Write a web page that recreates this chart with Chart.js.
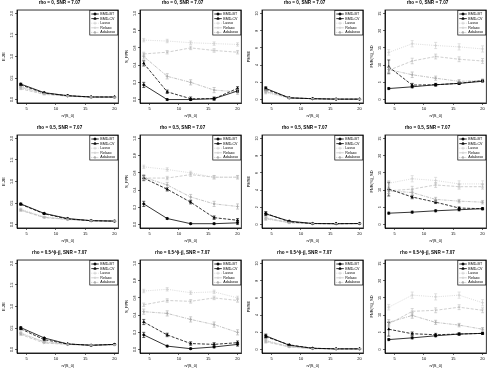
<!DOCTYPE html>
<html>
<head>
<meta charset="utf-8">
<script src="https://cdn.jsdelivr.net/npm/chart.js@4.4.0/dist/chart.umd.min.js"></script>
<style>
  body{margin:0;background:#fff;width:490px;height:369px;overflow:hidden;position:relative;}
  canvas{position:absolute;}
</style>
</head>
<body>
<script>
// x positions (n/|S_0|) and tick labels
const xVals = [4, 8, 12, 16, 20];
const xTicks = [5, 10, 15, 20];
const seriesNames = ['BMD-BT', 'BMD-CV', 'Lasso', 'Relaxo', 'Adalasso'];
const rowTitles = ['rho = 0, SNR = 7.07', 'rho = 0.5, SNR = 7.07', 'rho = 0.5^|i-j|, SNR = 7.07'];
const yTitles = ['E-2E', 'S_FPR', 'PMSE', 'FNR(%)_SD'];
const xTitle = 'n/|S_0|';
const yMax = [2, 1, 10, 25];
const yStep = [0.5, 0.2, 2, 5];

// panel values: rows BMD-BT, BMD-CV, Lasso, Relaxo, Adalasso
const r1c1 = [[0.36,0.16,0.09,0.06,0.06],[0.34,0.15,0.09,0.06,0.06],[0.27,0.13,0.08,0.06,0.05],[0.25,0.12,0.08,0.05,0.05],[0.29,0.14,0.08,0.06,0.05]];
const r1c2 = [[0.17,0.00,0.00,0.01,0.10],[0.42,0.09,0.01,0.01,0.13],[0.69,0.68,0.66,0.65,0.64],[0.53,0.55,0.60,0.57,0.55],[0.50,0.27,0.20,0.11,0.09]];
const r1c3 = [[1.3,0.2,0.1,0.05,0.05],[1.2,0.2,0.1,0.05,0.05],[0.8,0.15,0.1,0.05,0.05],[1.0,0.2,0.1,0.05,0.05],[0.9,0.2,0.1,0.05,0.05]];
const r1c4 = [[3.2,3.7,4.3,4.7,5.3],[9.5,4.2,4.3,4.7,5.5],[13.7,16.2,15.7,15.3,14.7],[8.5,11.2,12.5,11.7,11.2],[8.7,7.2,6.2,5.3,5.5]];

const r2c1 = [[0.48,0.26,0.14,0.09,0.08],[0.47,0.25,0.13,0.09,0.08],[0.36,0.18,0.12,0.09,0.08],[0.33,0.16,0.12,0.09,0.09],[0.34,0.17,0.12,0.09,0.08]];
const r2c2 = [[0.24,0.07,0.01,0.01,0.02],[0.54,0.41,0.26,0.08,0.05],[0.67,0.64,0.60,0.55,0.55],[0.54,0.54,0.58,0.55,0.55],[0.55,0.46,0.32,0.24,0.21]];
const r2c3 = [[1.24,0.4,0.12,0.1,0.12],[1.3,0.32,0.12,0.1,0.12],[0.64,0.2,0.1,0.1,0.1],[0.8,0.2,0.12,0.1,0.12],[0.7,0.25,0.12,0.1,0.1]];
const r2c4 = [[3.3,3.6,4.0,4.3,4.6],[10.3,8.0,6.5,4.8,4.6],[12.0,13.3,12.8,11.8,11.8],[9.8,10.3,11.5,11.0,11.0],[9.8,9.3,7.3,6.8,6.5]];

const r3c1 = [[0.51,0.27,0.13,0.10,0.12],[0.48,0.23,0.13,0.10,0.12],[0.40,0.17,0.12,0.10,0.11],[0.35,0.15,0.12,0.10,0.11],[0.37,0.18,0.12,0.10,0.11]];
const r3c2 = [[0.17,0.04,0.01,0.03,0.06],[0.32,0.17,0.07,0.06,0.08],[0.68,0.70,0.66,0.67,0.60],[0.52,0.57,0.56,0.60,0.57],[0.44,0.42,0.35,0.29,0.20]];
const r3c3 = [[1.6,0.5,0.15,0.08,0.08],[1.5,0.55,0.15,0.08,0.08],[1.1,0.3,0.1,0.08,0.08],[0.9,0.3,0.1,0.08,0.08],[1.0,0.35,0.12,0.08,0.08]];
const r3c4 = [[2.9,3.4,4.0,4.5,4.7],[5.9,4.6,4.3,4.5,4.7],[12.3,15.8,15.3,15.8,13.6],[7.4,11.1,11.4,12.3,11.4],[7.9,9.9,7.9,7.1,5.9]];

// error bar half-widths per column (same for every row)
const errC1 = [[0.02,0.01,0.01,0.01,0.01],[0.02,0.01,0.01,0.01,0.01],[0.02,0.01,0.01,0.01,0.01],[0.02,0.01,0.01,0.01,0.01],[0.02,0.01,0.01,0.01,0.01]];
const errC2 = [[0.03,0.01,0.01,0.01,0.02],[0.03,0.02,0.02,0.02,0.02],[0.02,0.02,0.02,0.02,0.02],[0.02,0.02,0.02,0.02,0.02],[0.03,0.03,0.03,0.03,0.03]];
const errC3 = [[0.2,0.05,0.03,0.02,0.02],[0.2,0.05,0.03,0.02,0.02],[0.15,0.05,0.03,0.02,0.02],[0.15,0.05,0.03,0.02,0.02],[0.15,0.05,0.03,0.02,0.02]];
const errC4 = [[0.3,0.3,0.3,0.3,0.3],[2.0,0.5,0.4,0.3,0.3],[0.8,0.9,0.9,0.9,0.9],[0.8,0.8,0.7,0.7,0.7],[0.8,0.8,0.6,0.5,0.5]];

const panels = [[r1c1,r1c2,r1c3,r1c4],[r2c1,r2c2,r2c3,r2c4],[r3c1,r3c2,r3c3,r3c4]];
const errs = [errC1, errC2, errC3, errC4];

const styles = [
  {color:'#000000', dash:[], point:'circle', r:1.1, width:0.8},
  {color:'#000000', dash:[3,1.5], point:'triangle', r:1.3, width:0.8},
  {color:'#cccccc', dash:[1,1.2], point:'cross', r:1.5, width:0.7},
  {color:'#bababa', dash:[3,1.5], point:'crossRot', r:1.2, width:0.7},
  {color:'#aaaaaa', dash:[1,1,3,1], point:'rectRot', r:1.1, width:0.7}
];

const FONT = 'Liberation Sans';

function yLabel(col, v){
  return col < 2 ? v.toFixed(1) : String(v);
}

const boxPlugin = {
  id:'box',
  afterDraw(chart){
    const {ctx, chartArea:a} = chart;
    const col = chart.canvas._col;
    ctx.save();
    ctx.strokeStyle = '#000';
    ctx.lineWidth = 0.8;
    ctx.strokeRect(a.left, a.top, a.right - a.left, a.bottom - a.top);
    // y tick labels, rotated like R's default axis
    const ys = chart.scales.y;
    ctx.fillStyle = '#000';
    ctx.font = '3.6px "' + FONT + '"';
    ctx.textAlign = 'center';
    ctx.textBaseline = 'middle';
    ys.ticks.forEach(t => {
      const y = ys.getPixelForValue(t.value);
      ctx.save();
      ctx.translate(a.left - 5, y);
      ctx.rotate(-Math.PI / 2);
      ctx.fillText(yLabel(col, t.value), 0, 0);
      ctx.restore();
    });
    ctx.restore();
  }
};

const errorBarPlugin = {
  id:'errbars',
  afterDatasetsDraw(chart){
    const {ctx} = chart;
    const xs = chart.scales.x, ys = chart.scales.y;
    chart.data.datasets.forEach(ds => {
      ctx.save();
      ctx.strokeStyle = ds.borderColor;
      ctx.lineWidth = 0.6;
      ds.data.forEach((p, i) => {
        const e = ds.errs[i];
        const x = xs.getPixelForValue(p.x);
        const y1 = ys.getPixelForValue(p.y - e), y2 = ys.getPixelForValue(p.y + e);
        ctx.beginPath();
        ctx.moveTo(x, y1); ctx.lineTo(x, y2);
        ctx.moveTo(x - 1.5, y1); ctx.lineTo(x + 1.5, y1);
        ctx.moveTo(x - 1.5, y2); ctx.lineTo(x + 1.5, y2);
        ctx.stroke();
      });
      ctx.restore();
    });
  }
};

const legendPlugin = {
  id:'boxlegend',
  afterDraw(chart){
    const {ctx, chartArea:a} = chart;
    const w = 28, rowH = 4.6, h = rowH * 5 + 1.5;
    const x0 = a.right - w - 0.5, y0 = a.top + 0.5;
    ctx.save();
    ctx.fillStyle = '#fff';
    ctx.fillRect(x0, y0, w, h);
    ctx.strokeStyle = '#000';
    ctx.lineWidth = 0.7;
    ctx.strokeRect(x0, y0, w, h);
    ctx.font = '3.6px "' + FONT + '"';
    ctx.textBaseline = 'middle';
    chart.data.datasets.forEach((ds, i) => {
      const y = y0 + 1.2 + rowH * (i + 0.5);
      ctx.strokeStyle = ds.borderColor;
      ctx.lineWidth = ds.borderWidth;
      ctx.setLineDash(ds.borderDash);
      ctx.beginPath();
      ctx.moveTo(x0 + 1.5, y); ctx.lineTo(x0 + 9, y);
      ctx.stroke();
      ctx.setLineDash([]);
      ctx.fillStyle = ds.borderColor;
      Chart.helpers.drawPoint(ctx, {pointStyle: ds.pointStyle, radius: ds.pointRadius, borderWidth: 0.7}, x0 + 5.2, y);
      ctx.fillStyle = '#000';
      ctx.fillText(ds.label, x0 + 10.5, y);
    });
    ctx.restore();
  }
};

function makePanel(row, col){
  const cv = document.createElement('canvas');
  cv.width = 123; cv.height = 125;
  cv.style.left = Math.round(col * 122.5) + 'px';
  cv.style.top = (row * 125 - 2) + 'px';
  cv.style.width = '123px'; cv.style.height = '125px';
  cv._col = col;
  document.body.appendChild(cv);

  const vals = panels[row][col];
  const datasets = seriesNames.map((name, s) => ({
    label: name,
    data: xVals.map((x, i) => ({x, y: vals[s][i]})),
    errs: errs[col][s],
    borderColor: styles[s].color,
    backgroundColor: styles[s].color,
    borderWidth: styles[s].width,
    borderDash: styles[s].dash,
    pointStyle: styles[s].point,
    pointRadius: styles[s].r,
    pointBorderWidth: 0.7,
    fill: false,
    tension: 0
  }));
  const ym = yMax[col], yst = yStep[col];
  const yTickVals = [];
  for(let v = 0; v <= ym + 1e-9; v += yst) yTickVals.push(+v.toFixed(2));

  new Chart(cv, {
    type:'line',
    data:{datasets},
    plugins:[boxPlugin, errorBarPlugin, legendPlugin],
    options:{
      responsive:false,
      animation:false,
      devicePixelRatio:1,
      layout:{padding:{left:0, right:4, top:0, bottom:5}},
      plugins:{
        legend:{display:false},
        tooltip:{enabled:false},
        title:{display:true, text:rowTitles[row], color:'#000',
          font:{family:FONT, size:4.6, weight:'bold'}, padding:{top:2, bottom:4.5}}
      },
      scales:{
        x:{type:'linear', min:3.36, max:20.64,
          afterBuildTicks(s){ s.ticks = xTicks.map(v => ({value:v})); },
          afterFit(s){ s.height = 15; },
          ticks:{color:'#000', font:{family:FONT, size:4}, padding:1.5, maxRotation:0},
          grid:{drawOnChartArea:false, drawTicks:true, tickLength:2, color:'#000', lineWidth:0.6},
          border:{display:true, color:'#000', width:0.8},
          title:{display:true, text:xTitle, color:'#000', font:{family:FONT, size:4}, padding:{top:1, bottom:0}}
        },
        y:{type:'linear', min:-0.04 * ym, max:1.04 * ym,
          afterBuildTicks(s){ s.ticks = yTickVals.map(v => ({value:v})); },
          afterFit(s){ s.width = 17; },
          ticks:{display:false},
          grid:{drawOnChartArea:false, drawTicks:true, tickLength:2, color:'#000', lineWidth:0.6},
          border:{display:true, color:'#000', width:0.8},
          title:{display:true, text:yTitles[col], color:'#000', font:{family:FONT, size:4}, padding:{top:1, bottom:0}}
        }
      }
    }
  });
}

for(let r = 0; r < 3; r++) for(let c = 0; c < 4; c++) makePanel(r, c);
</script>
</body>
</html>
